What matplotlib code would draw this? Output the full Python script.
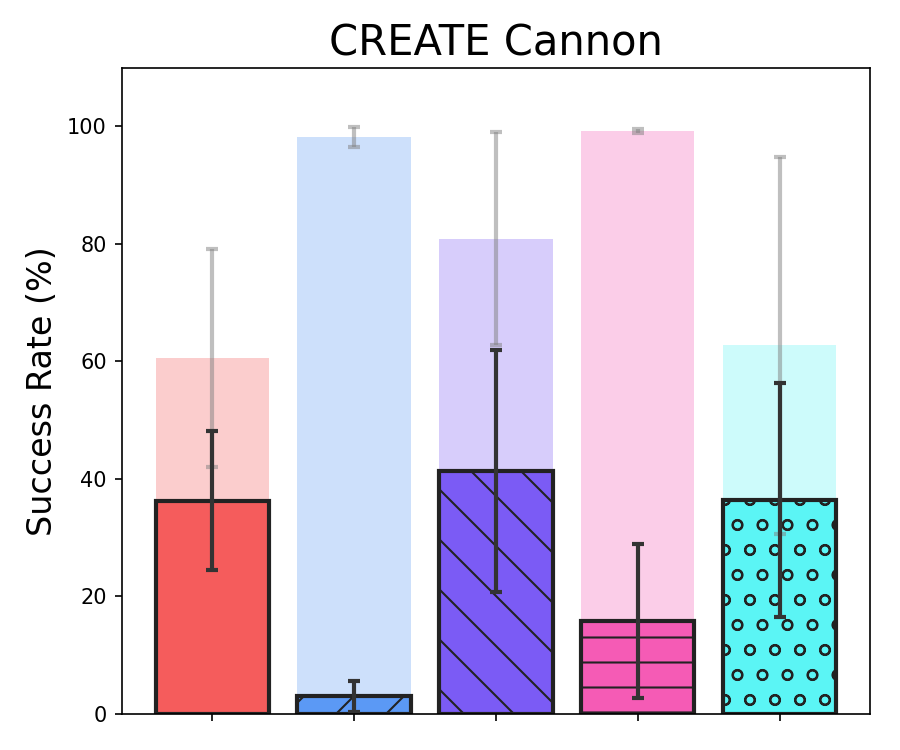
import numpy as np
import matplotlib
matplotlib.use("Agg")
import matplotlib.pyplot as plt

# success rates (%) for the five methods on CREATE Cannon
colors = ["#f55c5c", "#5b99f5", "#7b5bf5", "#f55bb5", "#5bf5f5"]
hatches = ["", "/", "\\", "-", "o"]

# background (light) bars: upper value + std
upper_mean = [60.6, 98.2, 80.9, 99.2, 62.7]
upper_std = [18.6, 1.7, 18.2, 0.3, 32.0]

# foreground (hatched) bars: mean + std
mean = [36.3, 3.0, 41.4, 15.8, 36.4]
std = [11.8, 2.6, 20.6, 13.1, 19.9]

x = np.arange(len(mean))

plt.rcParams["hatch.linewidth"] = 1.0
fig, ax = plt.subplots(figsize=(6, 5), dpi=150)

ax.bar(x, upper_mean, width=0.8, color=colors, alpha=0.3, linewidth=0)
ax.errorbar(x, upper_mean, yerr=upper_std, fmt="none", ecolor="gray",
            alpha=0.5, elinewidth=2, capsize=3, capthick=2)

bars = ax.bar(x, mean, width=0.8, color=colors, edgecolor="#222222",
              linewidth=2)
for b, h in zip(bars, hatches):
    b.set_hatch(h)
ax.errorbar(x, mean, yerr=std, fmt="none", ecolor="#333333",
            elinewidth=2, capsize=3, capthick=2)

ax.set_ylim(0, 110)
ax.set_xticks(x)
ax.set_xticklabels([""] * len(x))
ax.set_ylabel("Success Rate (%)", fontsize=16)
ax.set_title("CREATE Cannon", fontsize=20)

plt.subplots_adjust(left=0.135, right=0.967, bottom=0.048, top=0.91)
plt.savefig("out.png", dpi=150)
